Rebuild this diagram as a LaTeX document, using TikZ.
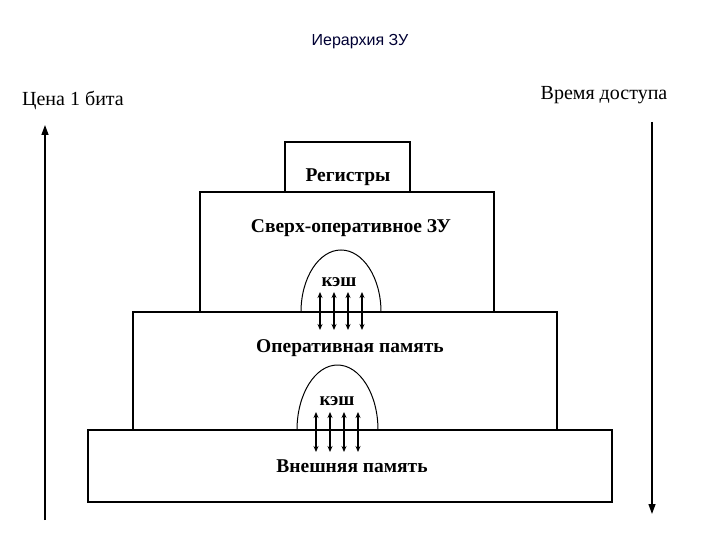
\documentclass[tikz,border=0pt]{standalone}
\usepackage{fontspec}
\setmainfont{Liberation Serif}
\newfontfamily\titlefont{Liberation Sans}
\usetikzlibrary{arrows.meta}
\begin{document}
\begin{tikzpicture}[x=1pt,y=-1pt,
  lvl/.style={draw,line width=1.4pt},
  lbl/.style={font=\bfseries\fontsize{19.5}{22}\selectfont},
  dbl/.style={{Stealth[length=6pt,width=5pt]}-{Stealth[length=6pt,width=5pt]},line width=1.2pt},
  axis/.style={line width=1.3pt,-{Triangle[length=10pt,width=7pt]}}]
\useasboundingbox (0,0) rectangle (720,540);
\node[font=\titlefont\fontsize{16}{18}\selectfont,text=black!80!blue] (title) at (360,42) {Иерархия ЗУ};
\draw[lvl] (285,142) rectangle (410,192);
\draw[lvl] (200,192) rectangle (494,312);
\draw[lvl] (133,312) rectangle (557,430);
\draw[lvl] (88,430) rectangle (612,502);
\node[lbl] (r) at (348,177) {Регистры};
\node[lbl] (s) at (351,228) {Сверх-оперативное ЗУ};
\node[lbl] (o) at (350,348) {Оперативная память};
\node[lbl] (v) at (352,466) {Внешняя память};
\draw[line width=1pt] (301,312) arc[start angle=180,end angle=360,x radius=40,y radius=62];
\draw[line width=1pt] (297,430) arc[start angle=180,end angle=360,x radius=40.5,y radius=65];
\node[lbl,font=\bfseries\fontsize{19}{21}\selectfont] (k1) at (339,282) {кэш};
\node[lbl,font=\bfseries\fontsize{19}{21}\selectfont] (k2) at (337,401) {кэш};
\foreach \x in {320,334,348,362} \draw[dbl] (\x,292) -- (\x,330);
\foreach \x in {316,330,344,358} \draw[dbl] (\x,412) -- (\x,452);
\coordinate (la) at (45,520); \coordinate (lb) at (45,125);
\coordinate (ra) at (652,122); \coordinate (rb) at (652,514);
\draw[axis] (la) -- (lb);
\draw[axis] (ra) -- (rb);
\node[font=\fontsize{20}{22}\selectfont] (c) at (73,100) {Цена 1 бита};
\node[font=\fontsize{20}{22}\selectfont] (t) at (604,95) {Время доступа};
\end{tikzpicture}
\end{document}
